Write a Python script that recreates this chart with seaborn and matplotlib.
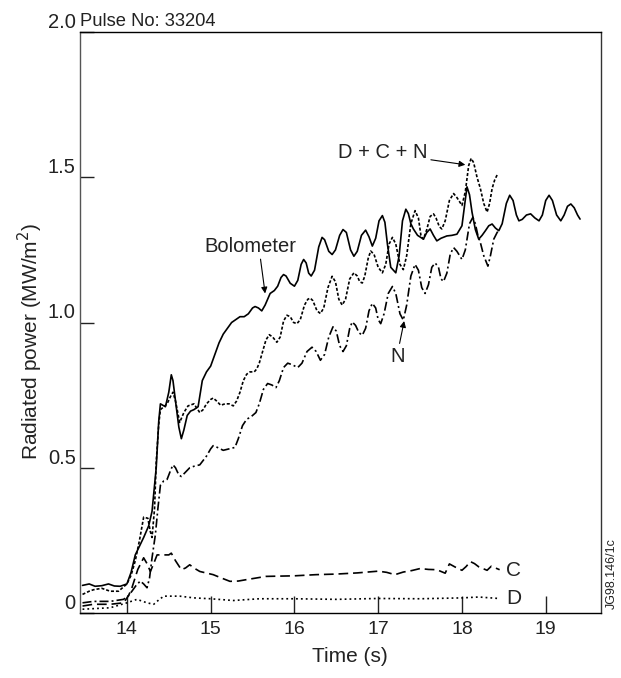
import numpy as np
import pandas as pd
import matplotlib
matplotlib.use("Agg")
import matplotlib.pyplot as plt
import seaborn as sns

# ---- data ----
bolo_t = [13.47, 13.55, 13.62, 13.7, 13.78, 13.85, 13.92, 14.0, 14.05, 14.1, 14.15, 14.2, 14.26, 14.3,
          14.35, 14.38, 14.4, 14.43, 14.46, 14.5, 14.53, 14.55, 14.58, 14.62, 14.65, 14.68, 14.72,
          14.76, 14.8, 14.85, 14.9, 14.95, 15.0, 15.05, 15.1, 15.15, 15.2, 15.25, 15.3, 15.35, 15.4,
          15.45, 15.5, 15.53, 15.57, 15.61, 15.65, 15.71, 15.76, 15.8, 15.84, 15.87, 15.9, 15.95,
          16.0, 16.04, 16.08, 16.11, 16.14, 16.17, 16.2, 16.24, 16.29, 16.33, 16.36, 16.41, 16.45,
          16.49, 16.54, 16.58, 16.62, 16.67, 16.71, 16.75, 16.8, 16.85, 16.89, 16.93, 16.97, 17.01,
          17.05, 17.08, 17.11, 17.15, 17.21, 17.25, 17.29, 17.33, 17.36, 17.39, 17.42, 17.47, 17.54,
          17.58, 17.62, 17.66, 17.70, 17.75, 17.82, 17.88, 17.94, 18.0, 18.03, 18.06, 18.09, 18.12,
          18.16, 18.20, 18.24, 18.28, 18.32, 18.36, 18.40, 18.44, 18.48, 18.53, 18.57, 18.61, 18.65,
          18.68, 18.72, 18.77, 18.82, 18.87, 18.92, 18.96, 19.0, 19.04, 19.08, 19.13, 19.18, 19.22,
          19.26, 19.30, 19.34, 19.38, 19.41]
bolo_v = [0.095, 0.10, 0.092, 0.094, 0.10, 0.093, 0.092, 0.10, 0.14, 0.20, 0.23, 0.26, 0.30, 0.35,
          0.50, 0.66, 0.72, 0.715, 0.71, 0.76, 0.82, 0.80, 0.73, 0.64, 0.60, 0.63, 0.68,
          0.695, 0.70, 0.71, 0.80, 0.83, 0.85, 0.89, 0.93, 0.96, 0.98, 1.0, 1.01, 1.02, 1.02,
          1.03, 1.05, 1.055, 1.05, 1.04, 1.06, 1.10, 1.11, 1.125, 1.155, 1.165, 1.16, 1.135,
          1.125, 1.145, 1.20, 1.217, 1.205, 1.17, 1.16, 1.18, 1.26, 1.293, 1.285, 1.245, 1.234,
          1.25, 1.30, 1.32, 1.31, 1.25, 1.228, 1.245, 1.30, 1.318, 1.295, 1.263, 1.29, 1.35,
          1.368, 1.345, 1.27, 1.19, 1.171, 1.23, 1.35, 1.39, 1.375, 1.34, 1.322, 1.30, 1.287,
          1.31, 1.322, 1.30, 1.281, 1.29, 1.298, 1.30, 1.304, 1.333, 1.40, 1.467, 1.44, 1.38,
          1.32, 1.287, 1.30, 1.316, 1.333, 1.339, 1.325, 1.316, 1.34, 1.41, 1.438, 1.42, 1.37,
          1.35, 1.355, 1.37, 1.374, 1.36, 1.35, 1.37, 1.42, 1.438, 1.42, 1.37, 1.35, 1.37,
          1.40, 1.408, 1.395, 1.37, 1.356]

dcn_t = [13.47, 13.55, 13.6, 13.7, 13.8, 13.9, 14.0, 14.05, 14.1, 14.15, 14.2, 14.25, 14.28, 14.3,
         14.33, 14.35, 14.38, 14.4, 14.44, 14.48, 14.52, 14.55, 14.58, 14.63, 14.68, 14.73, 14.8,
         14.87, 14.91, 14.95, 15.0, 15.03, 15.07, 15.12, 15.17, 15.22, 15.27, 15.31, 15.35, 15.39,
         15.43, 15.47, 15.52, 15.55, 15.58, 15.62, 15.66, 15.70, 15.74, 15.79, 15.83, 15.87, 15.91,
         15.95, 15.99, 16.03, 16.07, 16.12, 16.16, 16.19, 16.22, 16.27, 16.31, 16.35, 16.4, 16.45,
         16.49, 16.53, 16.57, 16.61, 16.66, 16.71, 16.75, 16.78, 16.81, 16.84, 16.88, 16.91, 16.95,
         17.0, 17.05, 17.09, 17.13, 17.17, 17.21, 17.26, 17.30, 17.34, 17.39, 17.44, 17.48, 17.51,
         17.54, 17.58, 17.62, 17.66, 17.69, 17.73, 17.76, 17.80, 17.85, 17.90, 17.94, 18.0, 18.04,
         18.08, 18.11, 18.14, 18.18, 18.22, 18.26, 18.30, 18.33, 18.36, 18.39, 18.42]
dcn_v = [0.064, 0.075, 0.08, 0.085, 0.075, 0.075, 0.10, 0.13, 0.18, 0.25, 0.33, 0.326, 0.28, 0.26,
         0.36, 0.52, 0.65, 0.70, 0.71, 0.72, 0.745, 0.76, 0.73, 0.656, 0.69, 0.713, 0.72,
         0.69, 0.70, 0.72, 0.735, 0.74, 0.73, 0.715, 0.72, 0.72, 0.713, 0.73, 0.76, 0.80,
         0.822, 0.83, 0.83, 0.84, 0.86, 0.90, 0.94, 0.958, 0.95, 0.932, 0.95, 1.005, 1.025,
         1.02, 1.00, 0.996, 1.01, 1.06, 1.08, 1.084, 1.075, 1.04, 1.031, 1.05, 1.12, 1.159,
         1.14, 1.08, 1.06, 1.08, 1.15, 1.171, 1.16, 1.14, 1.136, 1.16, 1.22, 1.246, 1.235,
         1.19, 1.171, 1.20, 1.27, 1.293, 1.27, 1.20, 1.182, 1.23, 1.34, 1.385, 1.36, 1.30,
         1.287, 1.32, 1.365, 1.374, 1.36, 1.33, 1.322, 1.35, 1.42, 1.444, 1.43, 1.403, 1.45,
         1.54, 1.565, 1.55, 1.50, 1.461, 1.41, 1.38, 1.41, 1.461, 1.49, 1.508]

n_t = [13.47, 13.6, 13.8, 13.96, 14.02, 14.06, 14.11, 14.16, 14.2, 14.24, 14.27, 14.3, 14.34, 14.37,
       14.4, 14.44, 14.48, 14.52, 14.55, 14.58, 14.62, 14.65, 14.7, 14.75, 14.8, 14.87, 14.91,
       14.95, 15.0, 15.03, 15.08, 15.15, 15.22, 15.29, 15.33, 15.38, 15.43, 15.48, 15.54, 15.58,
       15.63, 15.68, 15.73, 15.78, 15.82, 15.87, 15.92, 15.97, 16.04, 16.09, 16.15, 16.21, 16.26,
       16.31, 16.36, 16.41, 16.46, 16.5, 16.54, 16.58, 16.62, 16.66, 16.69, 16.73, 16.77, 16.81,
       16.85, 16.89, 16.93, 16.97, 17.0, 17.03, 17.07, 17.12, 17.17, 17.21, 17.26, 17.30, 17.34,
       17.39, 17.44, 17.48, 17.52, 17.56, 17.6, 17.64, 17.68, 17.72, 17.75, 17.78, 17.82, 17.86,
       17.90, 17.94, 18.0, 18.04, 18.09, 18.13, 18.16, 18.19, 18.22, 18.26, 18.31, 18.34, 18.38,
       18.42, 18.45]
n_v = [0.035, 0.04, 0.04, 0.047, 0.06, 0.075, 0.095, 0.11, 0.10, 0.087, 0.12, 0.19, 0.27, 0.36,
       0.44, 0.455, 0.46, 0.49, 0.51, 0.50, 0.475, 0.47, 0.485, 0.50, 0.505, 0.51, 0.525,
       0.54, 0.565, 0.576, 0.57, 0.56, 0.565, 0.57, 0.60, 0.645, 0.667, 0.675, 0.69, 0.72,
       0.77, 0.79, 0.785, 0.776, 0.80, 0.845, 0.86, 0.855, 0.845, 0.86, 0.90, 0.915, 0.90,
       0.87, 0.89, 0.95, 0.985, 0.97, 0.92, 0.90, 0.92, 0.98, 1.002, 0.99, 0.965, 0.956,
       0.98, 1.04, 1.066, 1.05, 1.01, 0.996, 1.03, 1.10, 1.124, 1.10, 1.03, 1.008, 1.06,
       1.16, 1.20, 1.18, 1.12, 1.10, 1.13, 1.19, 1.205, 1.19, 1.15, 1.141, 1.17, 1.235,
       1.258, 1.245, 1.217, 1.25, 1.34, 1.362, 1.34, 1.30, 1.275, 1.23, 1.194, 1.23, 1.287,
       1.31, 1.322]

c_t = [13.47, 13.6, 13.8, 13.96, 14.02, 14.06, 14.13, 14.2, 14.24, 14.28, 14.32, 14.36, 14.44,
       14.5, 14.53, 14.58, 14.65, 14.7, 14.75, 14.8, 14.87, 15.03, 15.15, 15.23, 15.33, 15.43,
       15.66, 16.0, 16.26, 16.5, 16.75, 17.0, 17.1, 17.2, 17.3, 17.4, 17.5, 17.6, 17.7, 17.8,
       17.85, 17.92, 18.0, 18.05, 18.1, 18.15, 18.2, 18.3, 18.35, 18.45]
c_v = [0.024, 0.03, 0.03, 0.035, 0.06, 0.087, 0.15, 0.19, 0.17, 0.143, 0.17, 0.20, 0.20,
       0.20, 0.206, 0.18, 0.149, 0.155, 0.166, 0.155, 0.143, 0.132, 0.118, 0.109, 0.11, 0.115,
       0.126, 0.128, 0.132, 0.134, 0.138, 0.144, 0.14, 0.132, 0.141, 0.146, 0.153, 0.15, 0.149,
       0.137, 0.169, 0.158, 0.147, 0.16, 0.177, 0.17, 0.159, 0.147, 0.161, 0.149]

d_t = [13.47, 13.8, 14.0, 14.12, 14.24, 14.32, 14.38, 14.44, 14.63, 14.8, 15.0, 15.27, 15.58,
       16.0, 16.5, 17.0, 17.5, 18.0, 18.2, 18.44]
d_v = [0.013, 0.018, 0.035, 0.047, 0.035, 0.03, 0.045, 0.058, 0.058, 0.052, 0.049, 0.043, 0.049,
       0.049, 0.047, 0.05, 0.049, 0.052, 0.055, 0.05]

x_ticks = [14, 15, 16, 17, 18, 19]
y_ticks = [0, 0.5, 1.0, 1.5, 2.0]
y_tick_labels = ["0", "0.5", "1.0", "1.5", "2.0"]

# ---- style ----
sns.set_theme(style="ticks")
plt.rcParams["font.family"] = ["Liberation Sans", "DejaVu Sans"]
plt.rcParams["lines.scale_dashes"] = False

fig = plt.figure(figsize=(6.21, 6.78), dpi=100)
ax = fig.add_axes([80 / 621, 1 - 613 / 678, 521 / 621, 581 / 678])

series = [
    ("Bolometer", bolo_t, bolo_v, None),
    ("D + C + N", dcn_t, dcn_v, (2.2, 1.4)),
    ("N", n_t, n_v, (6.5, 2.2, 1.4, 2.2)),
    ("C", c_t, c_v, (7.0, 3.5)),
    ("D", d_t, d_v, (1.3, 2.2)),
]
for name, t, v, dash in series:
    df = pd.DataFrame({"t": t, "v": v})
    sns.lineplot(data=df, x="t", y="v", ax=ax, estimator=None, sort=False, legend=False,
                 color="black", linewidth=1.2)
    ln = ax.get_lines()[-1]
    ln.set_solid_joinstyle("round")
    ln.set_dash_joinstyle("round")
    if dash is not None:
        ln.set_dashes(dash)

ax.set_xlim(13.44, 19.66)
ax.set_ylim(0, 2.0)
ax.set_xticks(x_ticks)
ax.set_xticklabels([str(x) for x in x_ticks])
ax.set_yticks(y_ticks)
ax.set_yticklabels(y_tick_labels)
ax.tick_params(axis="x", direction="in", length=12, width=1, pad=6, labelsize=14, colors="#222222")
ax.tick_params(axis="y", direction="in", length=10, width=1, pad=3, labelsize=14.5, colors="#222222")
plt.setp(ax.get_yticklabels(), va="bottom")

for side in ["top", "right", "bottom", "left"]:
    ax.spines[side].set_visible(True)
    ax.spines[side].set_color("black")
    ax.spines[side].set_linewidth(1.0)
ax.spines["left"].set_color("#555555")
ax.spines["right"].set_color("#333333")

ax.set_xlabel("Time (s)", fontsize=15, color="#222222")
ax.set_ylabel("Radiated power (MW/m$^2$)", fontsize=15, color="#222222")
ax.xaxis.set_label_coords(0.518, -0.0757)
ax.xaxis.label.set_va("center")
ax.yaxis.set_label_coords(-0.096, 0.468)
ax.yaxis.label.set_va("center")

ax.text(0.0, 1.004, "Pulse No: 33204", transform=ax.transAxes, ha="left", va="bottom",
        fontsize=13.2, color="#222222")

arrow = dict(arrowstyle="-|>", color="black", lw=0.8, mutation_scale=9, shrinkA=0, shrinkB=0)
ax.annotate("D + C + N", xy=(18.04, 1.543), xytext=(17.59, 1.584), ha="right", va="center",
            fontsize=14.5, color="#222222", arrowprops=arrow)
ax.annotate("Bolometer", xy=(15.65, 1.10), xytext=(15.48, 1.262), ha="center", va="center",
            fontsize=14.5, color="#222222",
            arrowprops=dict(arrow, relpos=(0.6, 0.0)))
ax.annotate("N", xy=(17.31, 1.005), xytext=(17.23, 0.884), ha="center", va="center",
            fontsize=14.5, color="#222222",
            arrowprops=dict(arrow, relpos=(0.6, 1.0)))
ax.text(18.53, 0.147, "C", ha="left", va="center", fontsize=15, color="#222222")
ax.text(18.53, 0.05, "D", ha="left", va="center", fontsize=15, color="#222222")

fig.text(612 / 621, 1 - 574 / 678, "JG98.146/1c", rotation=90, ha="center", va="center",
         fontsize=9, color="#222222")

fig.savefig("out.png", dpi=100)
